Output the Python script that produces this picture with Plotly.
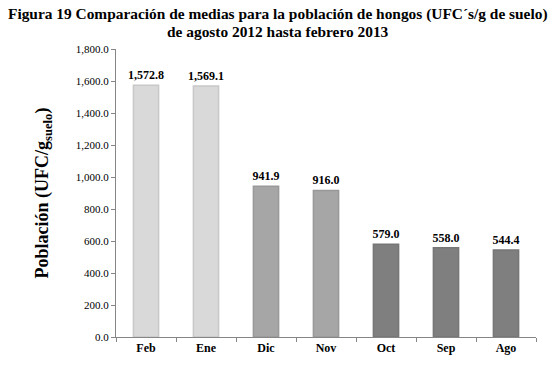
import plotly.graph_objects as go

categories = ["Feb", "Ene", "Dic", "Nov", "Oct", "Sep", "Ago"]
values = [1572.8, 1569.1, 941.9, 916.0, 579.0, 558.0, 544.4]
bar_colors = ["#d9d9d9", "#d9d9d9", "#a6a6a6", "#a6a6a6", "#7f7f7f", "#7f7f7f", "#7f7f7f"]
edge_colors = ["#c8c8c8", "#c8c8c8", "#999999", "#999999", "#767676", "#767676", "#767676"]
y_ticks = [0, 200, 400, 600, 800, 1000, 1200, 1400, 1600, 1800]
title_lines = [
    "Figura 19 Comparación de medias para la población de hongos (UFC´s/g de suelo)",
    "de agosto 2012 hasta febrero 2013",
]

font_family = "Liberation Serif, Times New Roman, serif"

fig = go.Figure()
fig.add_trace(go.Bar(
    x=categories,
    y=values,
    width=0.42,
    marker=dict(color=bar_colors, line=dict(color=edge_colors, width=1.5)),
    text=[f"{v:,.1f}" for v in values],
    textposition="outside",
    constraintext="none",
    textfont=dict(family=font_family, size=12, color="black"),
    texttemplate="<b>%{text}</b>",
    cliponaxis=False,
    hoverinfo="skip",
))

fig.update_layout(
    width=556, height=369,
    margin=dict(l=116, r=20, t=49, b=32),
    paper_bgcolor="white",
    plot_bgcolor="white",
    showlegend=False,
    font=dict(family=font_family, color="black"),
    uniformtext=dict(minsize=12, mode="show"),
)

# Title as two lines centred on the whole figure
for line, ypos in zip(title_lines, [1.1215, 1.0625]):
    fig.add_annotation(
        text=f"<b>{line}</b>",
        xref="paper", yref="paper", x=0.3857, y=ypos,
        xanchor="center", yanchor="middle", showarrow=False,
        font=dict(family=font_family, size=15.4, color="black"),
    )

fig.update_xaxes(
    showline=True, linecolor="#868686", linewidth=1,
    ticks="outside", tickson="boundaries", ticklen=4, tickcolor="#868686",
    tickfont=dict(family=font_family, size=12, color="black"),
    ticktext=[f"<b>{c}</b>" for c in categories],
    tickvals=categories,
    showgrid=False,
)

fig.update_yaxes(
    range=[0, 1800],
    tickvals=y_ticks,
    tickformat=",.1f",
    showline=True, linecolor="#868686", linewidth=1,
    ticks="outside", ticklen=4, tickcolor="#868686",
    tickfont=dict(family=font_family, size=11, color="black"),
    showgrid=False,
    zeroline=False,
    title=dict(
        text="<b>Población (UFC/g<sub>suelo</sub>)</b>",
        font=dict(family=font_family, size=18, color="black"),
        standoff=22,
    ),
)

fig.write_html(
    "out.html",
    config={"displayModeBar": False},
    post_script="document.body.style.margin='0';",
)
